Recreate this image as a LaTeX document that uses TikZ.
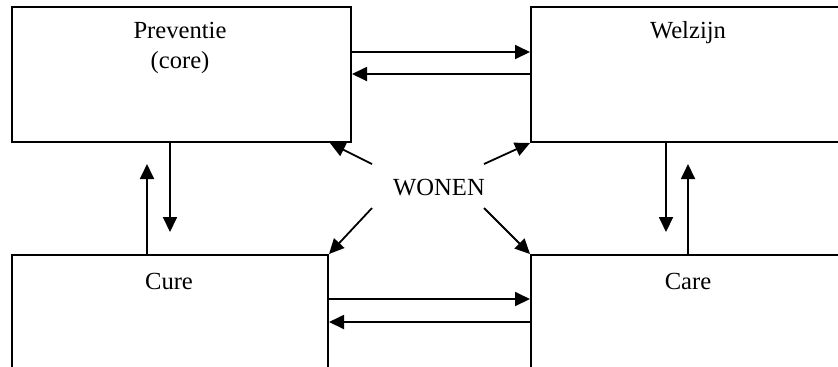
\documentclass[tikz,border=0pt]{standalone}
\usepackage{fontspec}
\setmainfont{Liberation Serif}
\usetikzlibrary{arrows.meta}
\begin{document}
\begin{tikzpicture}[x=0.5pt,y=-0.5pt,
  box/.style={draw=black,line width=1pt,rectangle,inner sep=0pt,anchor=north west},
  lbl/.style={font=\fontsize{12.3}{15}\selectfont,inner sep=0pt,align=center},
  arr/.style={line width=0.9pt,-{Triangle[length=7.5pt,width=7pt]}},
  ln/.style={line width=0.9pt}]
\useasboundingbox (0,0) rectangle (838,366);
\clip (0,0) rectangle (838,366);
\fill[white] (0,0) rectangle (838,366);
\node[box,minimum width=169.5pt,minimum height=67.5pt] (P) at (11,6) {};
\node[box,minimum width=160pt,minimum height=67.5pt] (W) at (530,6) {};
\node[box,minimum width=158pt,minimum height=70pt] (C) at (11,254) {};
\node[box,minimum width=160pt,minimum height=70pt] (K) at (530,254) {};
\node[lbl] (tP) at (180,48) {Preventie\\(core)};
\node[lbl] (tW) at (688,33) {Welzijn};
\node[lbl] (tC) at (169,281) {Cure};
\node[lbl] (tK) at (688,281) {Care};
\node[lbl] (won) at (439,188) {WONEN};
% horizontal top
\draw[arr] (P.east |- 0,52) -- (W.west |- 0,52);
\draw[arr] (W.west |- 0,74) -- (P.east |- 0,74);
% horizontal bottom
\draw[arr] (C.east |- 0,299) -- (K.west |- 0,299);
\draw[arr] (K.west |- 0,322) -- (C.east |- 0,322);
% vertical left
\coordinate (pd) at (170,232);
\coordinate (cu) at (147,164);
\draw[arr] (P.south -| pd) -- (pd);
\draw[arr] (C.north -| cu) -- (cu);
% vertical right
\coordinate (wd) at (666,232);
\coordinate (ku) at (688,164);
\draw[arr] (W.south -| wd) -- (wd);
\draw[arr] (K.north -| ku) -- (ku);
% diagonals from WONEN
\coordinate (s1) at (372,164);
\coordinate (s2) at (484,164);
\coordinate (s3) at (372,208);
\coordinate (s4) at (484,208);
\draw[arr] (s1) -- (P.south -| 330,0);
\draw[arr] (s2) -- (W.south west);
\draw[arr] (s3) -- (C.north east);
\draw[arr] (s4) -- (K.north west);
\end{tikzpicture}
\end{document}
